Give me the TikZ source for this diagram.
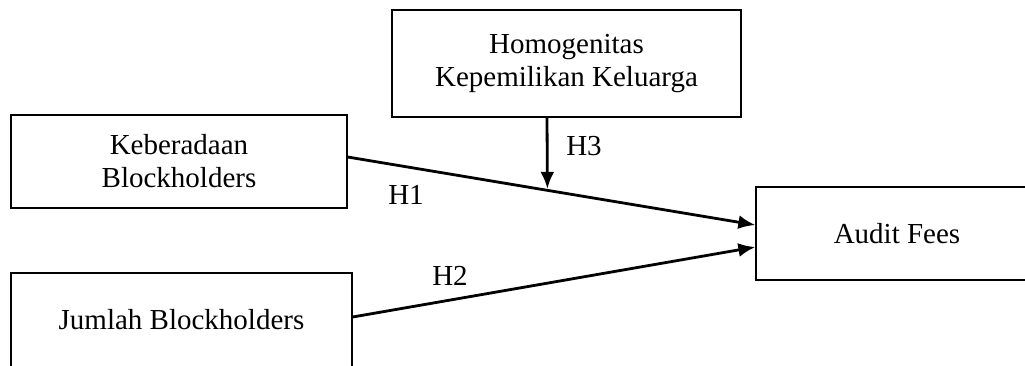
\documentclass[tikz,border=0pt]{standalone}
\usepackage{fontspec}
\setmainfont{Liberation Serif}
\usetikzlibrary{arrows.meta}
\begin{document}
\begin{tikzpicture}[x=1pt,y=-1pt,
  box/.style={draw,line width=1.3pt,align=center,inner sep=0pt,
    font=\fontsize{29}{33}\selectfont},
  lbl/.style={anchor=base,inner sep=0pt,font=\fontsize{29}{33}\selectfont},
  arr/.style={line width=2.8pt,-{Latex[length=17pt,width=14pt]}}]
\clip (0,0) rectangle (1025,365);
\node[box,minimum width=349pt,minimum height=107pt] (hom) at (566.5,63.5) {Homogenitas\\Kepemilikan Keluarga};
\node[box,minimum width=336pt,minimum height=93pt] (keb) at (179,161.5) {Keberadaan\\Blockholders};
\node[box,minimum width=341pt,minimum height=94pt] (jum) at (181.5,320) {Jumlah Blockholders};
\node[box,minimum width=282pt,minimum height=93pt] (af) at (897,233.5) {Audit Fees};
\draw[arr] ([yshift=4.5pt]keb.east) -- coordinate[pos=0.49] (m) ([yshift=8.5pt]af.west);
\draw[arr] ([yshift=3pt]jum.east) -- ([yshift=-13.5pt]af.west);
\draw[arr,shorten >=1.5pt] ([xshift=-19.5pt]hom.south) -- (m);
\node[lbl] (h1) at (406,204) {H1};
\node[lbl] (h2) at (450,285) {H2};
\node[lbl] (h3) at (584,155) {H3};
\end{tikzpicture}
\end{document}
